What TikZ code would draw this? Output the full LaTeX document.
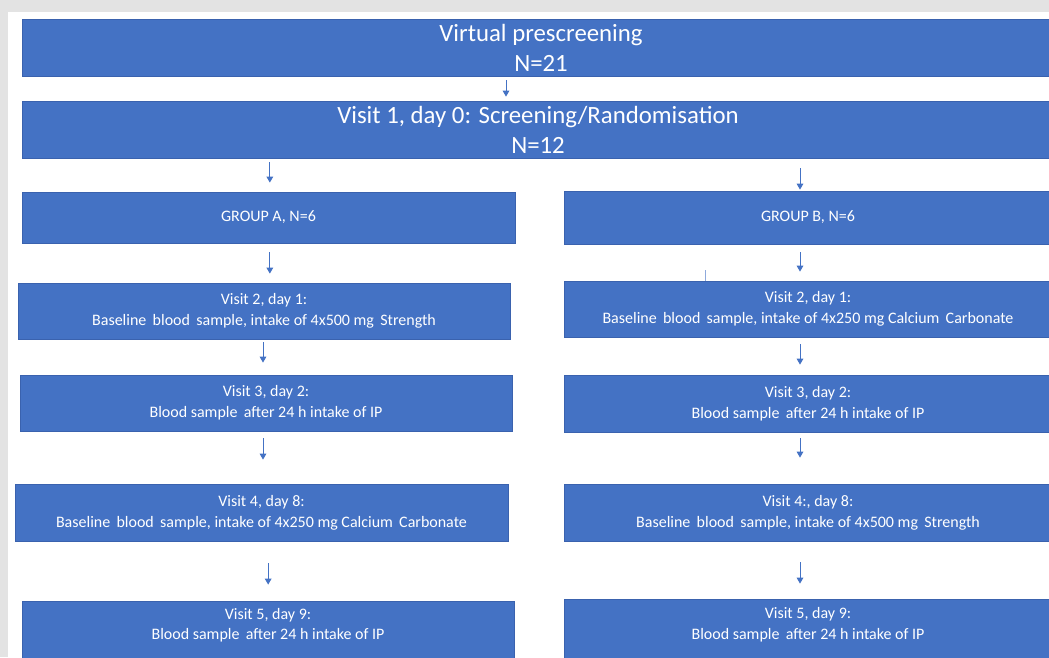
\documentclass[tikz,border=0pt]{standalone}
\usepackage{fontspec}
\setmainfont{Carlito}
\usetikzlibrary{arrows.meta, positioning}
\definecolor{trialblue}{HTML}{4472C4}
\definecolor{trialedge}{HTML}{3A62AE}
\definecolor{trialgrey}{HTML}{E3E3E3}
\tikzset{
  >={Triangle[length=4.5pt, width=5pt]},
  stage/.style={rectangle, draw=trialedge, line width=0.6pt, fill=trialblue,
                text=white, align=center, inner sep=0pt,
                font=\fontsize{12}{15.5}\selectfont},
  bar/.style={stage, minimum height=42.75pt, font=\fontsize{18.6}{22.5}\selectfont},
  lbox/.style={stage, minimum width=369pt, minimum height=42pt},
  rbox/.style={stage, minimum width=366pt, minimum height=42pt},
  flow/.style={->, line width=0.75pt, draw=trialblue},
  stray/.style={line width=0.5pt, draw=trialblue!60},
}
\newcommand{\gp}{\,}

\begin{document}
\begin{tikzpicture}[x=0.75pt, y=-0.75pt]
  \clip (0,0) rectangle (1049,657);
  \fill[trialgrey] (0,0) rectangle (1049,657);
  \fill[white] (8,12) rectangle (1049,657);
  % top of the flow
  \node[bar, minimum width=778.5pt] (pre) at (541,47.5) {Virtual prescreening\\N=21};
  \node[bar, minimum width=774pt] (visit1) at (538,129.5) {Visit 1, day 0: Screening/Randomisation\\N=12};
  % group A
  \node[lbox, minimum width=369.75pt, minimum height=38.25pt] (grpa) at (268.5,217.5) {GROUP A, N=6};
  \node[lbox] (a2) at (264,311) {Visit 2, day 1:\\Baseline\gp{} blood\gp{} sample, intake of 4x500 mg\gp{} Strength};
  \node[lbox] (a3) at (266,403) {Visit 3, day 2:\\Blood sample\gp{} after 24 h intake of IP};
  \node[lbox, minimum width=369.75pt, minimum height=42.75pt] (a4) at (261.5,512.5) {Visit 4, day 8:\\Baseline\gp{} blood\gp{} sample, intake of 4x250 mg Calcium\gp{} Carbonate};
  \node[lbox, minimum height=45pt, text depth=10.5pt] (a5) at (268,631) {Visit 5, day 9:\\Blood sample\gp{} after 24 h intake of IP};
  % group B
  \node[rbox, minimum height=39.75pt] (grpb) at (808,217.5) {GROUP B, N=6};
  \node[rbox] (b2) at (808,309) {Visit 2, day 1:\\Baseline\gp{} blood\gp{} sample, intake of 4x250 mg Calcium\gp{} Carbonate};
  \node[rbox, minimum height=42.75pt] (b3) at (808,403.5) {Visit 3, day 2:\\Blood sample\gp{} after 24 h intake of IP};
  \node[rbox, minimum height=42.75pt] (b4) at (808,512.5) {Visit 4:, day 8:\\Baseline\gp{} blood\gp{} sample, intake of 4x500 mg\gp{} Strength};
  \node[rbox, minimum height=47.25pt, text depth=10.5pt] (b5) at (808,630.5) {Visit 5, day 9:\\Blood sample\gp{} after 24 h intake of IP};
  % arrows
  \draw[flow, shorten <=3pt, shorten >=3pt] ([xshift=-26.25pt]pre.south) -- ([xshift=-26.25pt]pre.south |- visit1.north);
  \draw[flow, shorten <=3pt, shorten >=6.75pt] ([xshift=1pt]visit1.south -| grpa.north) -- ([xshift=1pt]grpa.north);
  \draw[flow, shorten <=7.5pt, shorten >=0.75pt] ([xshift=-6pt]visit1.south -| grpb.north) -- ([xshift=-6pt]grpb.north);
  \draw[flow, shorten <=6.75pt, shorten >=6.75pt] ([xshift=1pt]grpa.south) -- ([xshift=1pt]grpa.south |- a2.north);
  \draw[flow, shorten <=6pt, shorten >=6.75pt] ([xshift=-6pt]grpb.south) -- ([xshift=-6pt]grpb.south |- b2.north);
  \draw[flow, shorten <=2.25pt, shorten >=9pt] ([xshift=-0.75pt]a2.south) -- ([xshift=-0.75pt]a2.south |- a3.north);
  \draw[flow, shorten <=5.25pt, shorten >=7.5pt] ([xshift=-6pt]b2.south) -- ([xshift=-6pt]b2.south |- b3.north);
  \draw[flow, shorten <=5.25pt, shorten >=18pt] ([xshift=-2.25pt]a3.south) -- ([xshift=-2.25pt]a3.south |- a4.north);
  \draw[flow, shorten <=4.5pt, shorten >=19.5pt] ([xshift=-6pt]b3.south) -- ([xshift=-6pt]b3.south |- b4.north);
  \draw[flow, shorten <=16.5pt, shorten >=12pt] ([xshift=5pt]a4.south) -- ([xshift=5pt]a4.south |- a5.north);
  \draw[flow, shorten <=15.75pt, shorten >=11.25pt] ([xshift=-6pt]b4.south) -- ([xshift=-6pt]b4.south |- b5.north);
  \draw[stray] ([xshift=-77.25pt]b2.north) -- ++(0,-11);
\end{tikzpicture}
\end{document}
